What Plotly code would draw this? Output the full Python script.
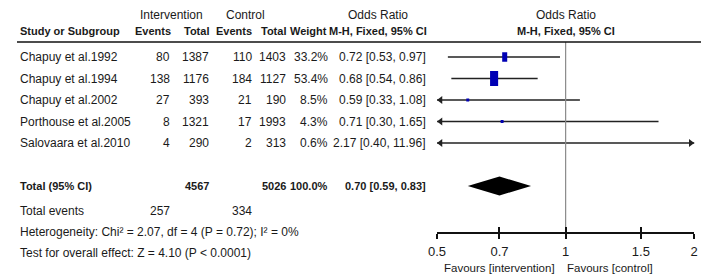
import math
import plotly.graph_objects as go

# ---------------- data ----------------
studies = ["Chapuy et al.1992", "Chapuy et al.1994", "Chapuy et al.2002",
           "Porthouse et al.2005", "Salovaara et al.2010"]
int_events = [80, 138, 27, 8, 4]
int_total = [1387, 1176, 393, 1321, 290]
ctl_events = [110, 184, 21, 17, 2]
ctl_total = [1403, 1127, 190, 1993, 313]
weights = [33.2, 53.4, 8.5, 4.3, 0.6]
odds = [0.72, 0.68, 0.59, 0.71, 2.17]
ci_low = [0.53, 0.54, 0.33, 0.30, 0.40]
ci_high = [0.97, 0.86, 1.08, 1.65, 11.96]

total_label = "Total (95% CI)"
total_int = 4567
total_ctl = 5026
total_weight = 100.0
pooled = [0.70, 0.59, 0.83]          # OR, low, high
total_events = [257, 334]
het_text = "Heterogeneity: Chi² = 2.07, df = 4 (P = 0.72); I² = 0%"
test_text = "Test for overall effect: Z = 4.10 (P < 0.0001)"
tick_vals = [0.5, 0.7, 1, 1.5, 2]
tick_text = ["0.5", "0.7", "1", "1.5", "2"]
x_range = [0.5, 2]
favours = ["Favours [intervention]", "Favours [control]"]

# ---------------- geometry ----------------
OFF = 8                          # page body margin (px)
FW, FH = 709 - OFF, 280 - OFF    # figure size so it fits the window
FONT = "Liberation Sans, Arial, sans-serif"
TXT = "#1a1a1a"
PX_L, PX_R = 436, 698            # forest plot horizontal extent (screen px)
PY_TOP, PY_AXIS = 42, 232        # header line and axis line (screen px)
ROW0, PITCH = 57, 21.5           # first row centre and row pitch (px)

def px(x):
    return (x - OFF) / FW

def py(y):
    return 1 - (y - OFF) / FH

y_lo = (PY_AXIS - ROW0) / PITCH
y_hi = (PY_TOP - ROW0) / PITCH
log_span = math.log10(x_range[1]) - math.log10(x_range[0])
per_px = log_span / (PX_R - PX_L)

fig = go.Figure()

# reference line at OR = 1
fig.add_trace(go.Scatter(x=[1, 1], y=[y_lo, y_hi], mode="lines", xaxis="x2",
                         line=dict(color="#8a8a8a", width=1.2), hoverinfo="skip"))

for i in range(len(studies)):
    # CI line
    fig.add_trace(go.Scatter(x=[ci_low[i], ci_high[i]], y=[i, i], mode="lines",
                             line=dict(color="#222222", width=1.4), hoverinfo="skip"))
    # arrows when CI exceeds the axis
    if ci_low[i] < x_range[0]:
        fig.add_trace(go.Scatter(x=[x_range[0] * 10 ** (3.5 * per_px)], y=[i], mode="markers",
                                 marker=dict(symbol="triangle-left", size=7, color="#222222"),
                                 cliponaxis=False, hoverinfo="skip"))
    if ci_high[i] > x_range[1]:
        fig.add_trace(go.Scatter(x=[x_range[1] * 10 ** (-3.5 * per_px)], y=[i], mode="markers",
                                 marker=dict(symbol="triangle-right", size=7, color="#222222"),
                                 cliponaxis=False, hoverinfo="skip"))
    # weight box
    h_px = max(3.0, 0.28 * weights[i])
    w_px = max(3.0, 0.55 * h_px)
    dx = (w_px / 2) * per_px
    dy = (h_px / 2) / PITCH
    if x_range[0] <= odds[i] <= x_range[1]:
        xs = [odds[i] * 10 ** -dx, odds[i] * 10 ** dx, odds[i] * 10 ** dx, odds[i] * 10 ** -dx, odds[i] * 10 ** -dx]
        ys = [i - dy, i - dy, i + dy, i + dy, i - dy]
        fig.add_trace(go.Scatter(x=xs, y=ys, mode="lines", fill="toself",
                                 fillcolor="#0000b4", line=dict(width=0, color="#0000b4"),
                                 hoverinfo="skip"))

# pooled diamond
total_row = len(studies) + 1
d = 9.5 / PITCH
fig.add_trace(go.Scatter(x=[pooled[1], pooled[0], pooled[2], pooled[0], pooled[1]],
                         y=[total_row, total_row - d, total_row, total_row + d, total_row],
                         mode="lines", fill="toself", fillcolor="#000000",
                         line=dict(width=0, color="#000000"), hoverinfo="skip"))

# ---------------- text ----------------
ann = []

def add(text, x, y, anchor="right", yref="paper", size=12, bold=False, color=TXT):
    if bold:
        text = "<b>" + text + "</b>"
    ann.append(dict(text=text, x=px(x), y=y, xref="paper", yref=yref, xanchor=anchor,
                    yanchor="middle", showarrow=False,
                    font=dict(family=FONT, size=size, color=color)))

LEFT = 9
BS = 11   # bold size
# header row 1
r1 = py(15)
add("Intervention", 165, r1, "center")
add("Control", 241, r1, "center")
add("Odds Ratio", 376, r1, "center")
add("Odds Ratio", 567, r1, "center")
# header row 2
r2 = py(31)
add("Study or Subgroup", LEFT, r2, "left", size=BS, bold=True)
add("Events", 167, r2, size=BS, bold=True)
add("Total", 206, r2, size=BS, bold=True)
add("Events", 249, r2, size=BS, bold=True)
add("Total", 284, r2, size=BS, bold=True)
add("Weight", 326, r2, size=BS, bold=True)
add("M-H, Fixed, 95% CI", 428, r2, size=BS, bold=True)
add("M-H, Fixed, 95% CI", 567, r2, "center", size=BS, bold=True)

for i in range(len(studies)):
    add(studies[i], LEFT, i, "left", yref="y")
    add(str(int_events[i]), 166, i, yref="y")
    add(str(int_total[i]), 206, i, yref="y")
    add(str(ctl_events[i]), 249, i, yref="y")
    add(str(ctl_total[i]), 284, i, yref="y")
    add(f"{weights[i]:.1f}%", 327, i, yref="y")
    add(f"{odds[i]:.2f} [{ci_low[i]:.2f}, {ci_high[i]:.2f}]", 427, i, yref="y")

add(total_label, LEFT, total_row, "left", yref="y", size=BS, bold=True)
add(str(total_int), 206, total_row, yref="y", size=BS, bold=True)
add(str(total_ctl), 284, total_row, yref="y", size=BS, bold=True)
add(f"{total_weight:.1f}%", 327, total_row, yref="y", size=BS, bold=True)
add(f"{pooled[0]:.2f} [{pooled[1]:.2f}, {pooled[2]:.2f}]", 427, total_row, yref="y", size=BS, bold=True)

add("Total events", LEFT, py(211), "left")
add(str(total_events[0]), 166, py(211))
add(str(total_events[1]), 249, py(211))
add(het_text, LEFT, py(232), "left")
add(test_text, LEFT, py(253), "left")

add(favours[0], 558, py(268), "right", size=11.5)
add(favours[1], 566, py(268), "left", size=11.5)

axis_common = dict(type="log", range=[math.log10(x_range[0]), math.log10(x_range[1])],
                   domain=[px(PX_L), px(PX_R)], anchor="y", showgrid=False, zeroline=False,
                   showline=True, linecolor="#111111", linewidth=1.5,
                   tickvals=tick_vals, tickwidth=1.5, tickcolor="#111111", ticklen=5)

fig.update_layout(
    width=FW, height=FH, margin=dict(l=0, r=0, t=0, b=0),
    paper_bgcolor="white", plot_bgcolor="white", showlegend=False,
    xaxis=dict(**axis_common, ticks="outside", ticktext=tick_text, ticklabelstandoff=2,
               tickfont=dict(family=FONT, size=13, color=TXT)),
    xaxis2=dict(**axis_common, ticks="inside", overlaying="x", showticklabels=False),
    yaxis=dict(range=[y_lo, y_hi], domain=[py(PY_AXIS), py(PY_TOP)], visible=False,
               showgrid=False, zeroline=False),
    annotations=ann,
    shapes=[dict(type="line", xref="paper", yref="paper", x0=0, x1=1,
                 y0=py(PY_TOP), y1=py(PY_TOP), line=dict(color="#111111", width=1.5))],
)

fig.write_html("out.html")
